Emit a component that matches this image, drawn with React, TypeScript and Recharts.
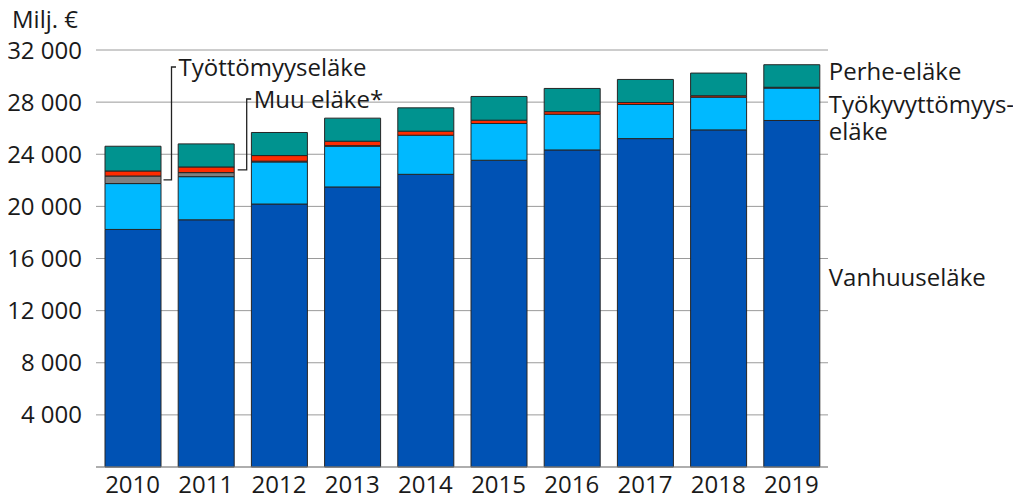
import React from 'react';
import { BarChart, Bar, XAxis, YAxis, CartesianGrid, LabelList, Customized } from 'recharts';

const years = ['2010', '2011', '2012', '2013', '2014', '2015', '2016', '2017', '2018', '2019'];
const vanhuuselake = [18230, 18970, 20180, 21490, 22460, 23540, 24330, 25200, 25870, 26590];
const tyokyvyttomyyselake = [3520, 3310, 3230, 3130, 3000, 2820, 2740, 2620, 2510, 2490];
const tyottomyyselake = [580, 310, 60, 40, 0, 0, 0, 0, 0, 0];
const muuElake = [385, 435, 430, 340, 310, 255, 200, 150, 110, 60];
const perheElake = [1900, 1770, 1770, 1770, 1790, 1820, 1780, 1770, 1740, 1730];
const yTicks = [4000, 8000, 12000, 16000, 20000, 24000, 28000, 32000];

const data = years.map((year, i) => ({
  year,
  vanhuus: vanhuuselake[i],
  tyokyvyt: tyokyvyttomyyselake[i],
  tyotto: tyottomyyselake[i],
  muu: muuElake[i],
  perhe: perheElake[i],
}));

const TEXT = '#1a1a1a';
const FONT = 24;

const fmt = (v: number) => {
  const s = String(v);
  if (s.length <= 3) return s;
  return s.slice(0, s.length - 3) + ' ' + s.slice(s.length - 3);
};

const geom = (p: any) => {
  const vb = p.viewBox || {};
  const x = p.x ?? vb.x;
  const y = p.y ?? vb.y;
  const width = p.width ?? vb.width;
  const height = p.height ?? vb.height;
  return { x: Number(x), y: Number(y), width: Number(width), height: Number(height) };
};

// leader annotation pointing to a segment of a given bar
const makeLeader = (targetIndex: number, label: string, textBaseline: number, gap: number, len: number) => (p: any) => {
  if (p.index !== targetIndex) return null;
  const { x, y, width, height } = geom(p);
  const right = x + width;
  const cy = y + height / 2;
  const vx = right + gap + len;
  const hookY = textBaseline - 9;
  return (
    <g>
      <polyline
        points={`${right + gap},${cy} ${vx},${cy} ${vx},${hookY} ${vx + 4.5},${hookY}`}
        fill="none"
        stroke="#222"
        strokeWidth={1.3}
      />
      <text x={vx + 7} y={textBaseline} fontSize={FONT} fill={TEXT}>{label}</text>
    </g>
  );
};

const makeRight = (lines: string[], dyFromCenter: number) => (p: any) => {
  if (p.index !== years.length - 1) return null;
  const { x, y, width, height } = geom(p);
  const cy = y + height / 2;
  return (
    <g>
      {lines.map((l, i) => (
        <text key={i} x={x + width + 9} y={cy + dyFromCenter + i * 26.7} fontSize={FONT} fill={TEXT}>{l}</text>
      ))}
    </g>
  );
};

const Unit = () => (
  <text x={12} y={28} fontSize={FONT} fill={TEXT}>Milj. €</text>
);

export default function App() {
  return (
    <div style={{ width: 1021, height: 499, margin: '-8px 0 0 -8px', fontFamily: "'Open Sans', sans-serif" }}>
      <BarChart
        width={1021}
        height={499}
        data={data}
        margin={{ top: 50, right: 193, left: 8, bottom: 0 }}
      >
        <CartesianGrid horizontal vertical={false} stroke="#9a9a9a" strokeWidth={1} />
        <XAxis
          dataKey="year"
          height={32}
          axisLine={{ stroke: '#8f8f8f', strokeWidth: 1.2 }}
          tickLine={false}
          tickSize={0}
          tickMargin={9}
          tick={{ fontSize: FONT, fill: TEXT }}
          interval={0}
        />
        <YAxis
          width={88}
          domain={[0, 32000]}
          ticks={yTicks}
          axisLine={false}
          tickLine={false}
          tickSize={0}
          tickMargin={14}
          tickFormatter={fmt}
          tick={{ fontSize: FONT, fill: TEXT }}
        />
        <Bar dataKey="vanhuus" stackId="a" fill="#0052b4" stroke="#262626" strokeWidth={1} barSize={56} isAnimationActive={false}>
          <LabelList dataKey="vanhuus" content={makeRight(['Vanhuuseläke'], -7.5)} />
        </Bar>
        <Bar dataKey="tyokyvyt" stackId="a" fill="#00b9ff" stroke="#262626" strokeWidth={1} barSize={56} isAnimationActive={false}>
          <LabelList dataKey="tyokyvyt" content={makeRight(['Työkyvyttömyys-', 'eläke'], 9)} />
        </Bar>
        <Bar dataKey="tyotto" stackId="a" fill="#808080" stroke="#262626" strokeWidth={1} barSize={56} isAnimationActive={false}>
          <LabelList dataKey="tyotto" content={makeLeader(0, 'Työttömyyseläke', 76, 2.5, 8)} />
        </Bar>
        <Bar dataKey="muu" stackId="a" fill="#ff2b00" stroke="#262626" strokeWidth={1} barSize={56} isAnimationActive={false}>
          <LabelList dataKey="muu" content={makeLeader(1, 'Muu eläke*', 108, 3.5, 9)} />
        </Bar>
        <Bar dataKey="perhe" stackId="a" fill="#00938f" stroke="#262626" strokeWidth={1} barSize={56} isAnimationActive={false}>
          <LabelList dataKey="perhe" content={makeRight(['Perhe-eläke'], 4.5)} />
        </Bar>
        <Customized component={<Unit />} />
      </BarChart>
    </div>
  );
}
